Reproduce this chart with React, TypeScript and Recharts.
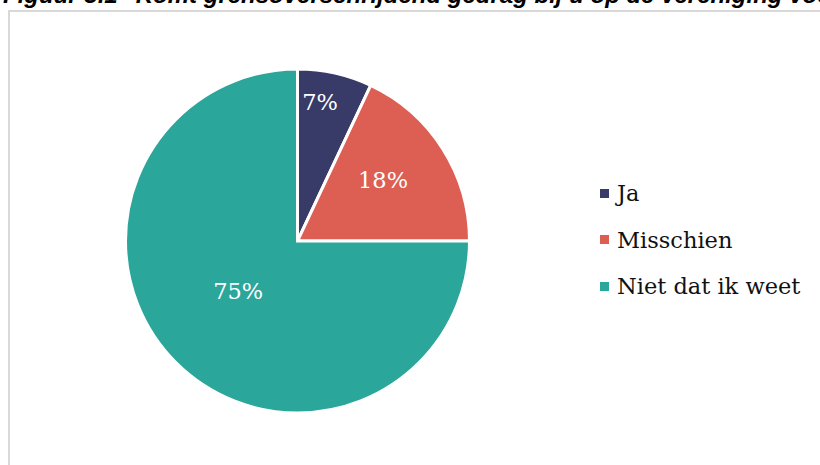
import { PieChart, Pie, Cell, Legend } from 'recharts'

const categories = ['Ja', 'Misschien', 'Niet dat ik weet']
const shares = [7, 18, 75]
const colors = ['#383A68', '#DD5E53', '#2BA69B']

// label placement per slice (fraction of radius, angle nudge in degrees)
const labelRadius = [0.82, 0.61, 0.45]
const labelNudge = [3.4, 3, -5]

const data = categories.map((name, i) => ({ name, value: shares[i] }))

const RAD = Math.PI / 180

const renderLabel = (props: any) => {
  const { cx, cy, midAngle, outerRadius, index, value } = props
  const r = outerRadius * labelRadius[index]
  const a = (midAngle + labelNudge[index]) * RAD
  const x = cx + r * Math.cos(-a)
  const y = cy + r * Math.sin(-a)
  return (
    <text
      x={x}
      y={y}
      fill="#ffffff"
      textAnchor="middle"
      dominantBaseline="central"
      fontFamily="DejaVu Serif"
      fontSize={22.5}
    >
      {value}%
    </text>
  )
}

const renderLegend = () => (
  <div style={{ fontFamily: 'DejaVu Serif', fontSize: 22.5, color: '#111111' }}>
    {data.map((d, i) => (
      <div key={d.name} style={{ display: 'flex', alignItems: 'center', height: 46.5 }}>
        <span
          style={{
            display: 'inline-block',
            width: 9,
            height: 9,
            background: colors[i],
            marginRight: 8,
          }}
        />
        <span>{d.name}</span>
      </div>
    ))}
  </div>
)

export default function App() {
  return (
    <div
      style={{
        position: 'absolute',
        left: 0,
        top: 0,
        width: 820,
        height: 465,
        overflow: 'hidden',
        background: '#ffffff',
      }}
    >
      <div
        style={{
          position: 'absolute',
          left: 3,
          top: -19,
          whiteSpace: 'nowrap',
          fontFamily: 'Liberation Sans',
          fontWeight: 'bold',
          fontStyle: 'italic',
          fontSize: 24,
          lineHeight: '28px',
          color: '#000000',
        }}
      >
        Figuur 5.1 "Komt grensoverschrijdend gedrag bij u op de vereniging voor?"
      </div>
      <div
        style={{
          position: 'absolute',
          left: 8,
          top: 10,
          width: 840,
          height: 480,
          border: '2px solid #d9d9d9',
          boxSizing: 'border-box',
        }}
      />
      <div style={{ position: 'absolute', left: 0, top: 0 }}>
        <PieChart width={820} height={465}>
          <Pie
            data={data}
            dataKey="value"
            nameKey="name"
            cx={292.5}
            cy={236}
            outerRadius={172}
            startAngle={90}
            endAngle={-270}
            stroke="#ffffff"
            strokeWidth={3}
            label={renderLabel}
            labelLine={false}
            isAnimationActive={false}
          >
            {data.map((d, i) => (
              <Cell key={d.name} fill={colors[i]} />
            ))}
          </Pie>
          <Legend
            layout="vertical"
            content={renderLegend}
            wrapperStyle={{ left: 600, top: 170, width: 220 }}
          />
        </PieChart>
      </div>
    </div>
  )
}
